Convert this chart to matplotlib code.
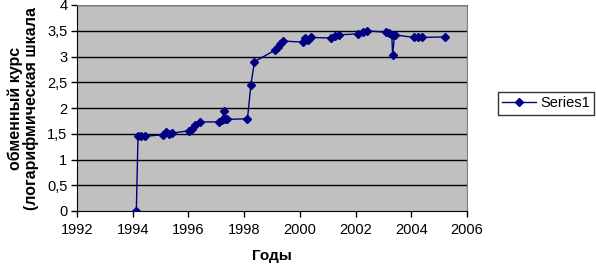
import numpy as np
import matplotlib
matplotlib.use('Agg')
import matplotlib.pyplot as plt
from matplotlib.ticker import FixedLocator, FuncFormatter

plt.rcParams['font.family'] = ['Liberation Sans', 'DejaVu Sans']

# data
years = [1994.13, 1994.19, 1994.31, 1994.43,
         1995.07, 1995.2, 1995.3, 1995.4,
         1996.02, 1996.12, 1996.25, 1996.4,
         1997.1, 1997.2, 1997.28, 1997.3, 1997.4,
         1998.12, 1998.24, 1998.37,
         1999.1, 1999.2, 1999.3, 1999.4,
         2000.1, 2000.2, 2000.3, 2000.4,
         2001.1, 2001.25, 2001.4,
         2002.1, 2002.25, 2002.4,
         2003.1, 2003.2, 2003.3, 2003.33, 2003.4,
         2004.1, 2004.25, 2004.4,
         2005.2]
rate = [0.0, 1.45, 1.45, 1.45,
        1.48, 1.53, 1.5, 1.51,
        1.56, 1.6, 1.67, 1.73,
        1.73, 1.76, 1.95, 1.78, 1.78,
        1.79, 2.44, 2.9,
        3.12, 3.18, 3.25, 3.3,
        3.28, 3.35, 3.33, 3.37,
        3.36, 3.4, 3.42,
        3.44, 3.47, 3.5,
        3.47, 3.45, 3.42, 3.03, 3.42,
        3.37, 3.38, 3.37,
        3.38]

xticks = list(range(1992, 2007, 2))
yticks = [0, 0.5, 1, 1.5, 2, 2.5, 3, 3.5, 4]

fig = plt.figure(figsize=(5.96, 2.68), dpi=100)
ax = fig.add_axes([77 / 596, 57 / 268, 390 / 596, 206 / 268])
ax.set_facecolor('#c0c0c0')

for yv in yticks[1:]:
    ax.axhline(yv, color='black', lw=1, zorder=1)

ax.plot(years, rate, color='#000080', lw=1, marker='D', ms=4.5,
        markerfacecolor='#000080', markeredgecolor='#000080',
        label='Series1', zorder=3)

ax.set_xlim(1992, 2006)
ax.set_ylim(0, 4)
ax.xaxis.set_major_locator(FixedLocator(xticks))
ax.yaxis.set_major_locator(FixedLocator(yticks))
ax.yaxis.set_major_formatter(FuncFormatter(lambda v, p: ('%g' % v).replace('.', ',')))
ax.tick_params(direction='out', length=4, width=1, labelsize=10.5, colors='black')
ax.tick_params(axis='x', pad=5)
ax.tick_params(axis='y', pad=3)

for side in ['top', 'right']:
    ax.spines[side].set_color('#808080')
for side in ['left', 'bottom']:
    ax.spines[side].set_color('black')

ax.set_xlabel('Годы', fontsize=11, fontweight='bold', labelpad=8)
ax.set_ylabel('обменный курс\n(логарифмическая шкала', fontsize=11.5,
              fontweight='bold', labelpad=6, linespacing=1.0)

leg = fig.legend(loc='upper left', bbox_to_anchor=(498 / 596, 1 - 92 / 268),
                 fontsize=10.5, frameon=True, fancybox=False, borderpad=0.3,
                 handlelength=2.3, handletextpad=0.3, borderaxespad=0)
leg.get_frame().set_edgecolor('black')
leg.get_frame().set_linewidth(1)

fig.savefig('out.png', dpi=100)
